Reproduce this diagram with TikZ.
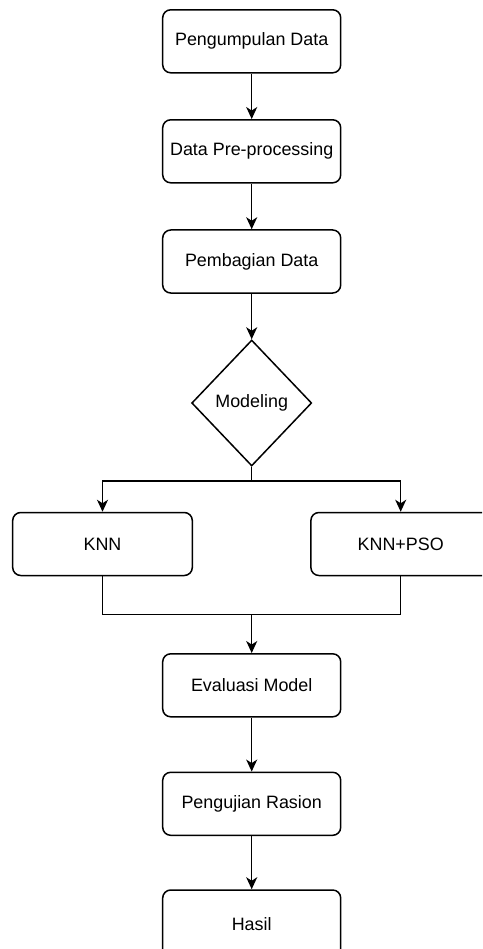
\documentclass[tikz,border=0pt]{standalone}
\usepackage{fontspec}
\setmainfont{Liberation Sans}
\usetikzlibrary{shapes.geometric,arrows.meta}
\begin{document}
\begin{tikzpicture}[x=1pt,y=-1pt,
  stepbox/.style={draw,line width=1.5pt,rounded corners=8pt,minimum width=178pt,minimum height=63pt,inner sep=0pt,font=\fontsize{17.9}{21}\selectfont},
  decbox/.style={draw,line width=1.5pt,diamond,minimum width=120pt,minimum height=126pt,inner sep=0pt,font=\fontsize{17.9}{21}\selectfont},
  arr/.style={line width=1.5pt,-{Stealth[length=12pt,width=11pt,inset=3.5pt]}},
  ln/.style={line width=1.5pt}]
\clip (0,0) rectangle (482,949);
\fill[white] (0,0) rectangle (482,949);
\node[stepbox] (b1) at (251.7,41.3) {Pengumpulan Data};
\node[stepbox] (b2) at (251.7,151.3) {Data Pre-processing};
\node[stepbox] (b3) at (251.7,261.5) {Pembagian Data};
\node[decbox] (dia) at (251.7,403) {Modeling};
\node[stepbox,minimum width=179.6pt] (knn) at (102.5,544) {KNN};
\node[stepbox,minimum width=179.6pt] (pso) at (400.7,544) {KNN+PSO};
\node[stepbox] (ev) at (251.7,685.3) {Evaluasi Model};
\node[stepbox] (pr) at (251.7,803.8) {Pengujian Rasion};
\node[stepbox,minimum height=74pt] (hs) at (251.7,927) {\raisebox{5pt}{Hasil}};
\coordinate (split) at (251.7,481);
\coordinate (merge) at (251.7,614.3);
\draw[arr] (b1) -- (b2);
\draw[arr] (b2) -- (b3);
\draw[arr] (b3) -- (dia);
\draw[ln] (dia.south) -- (split);
\draw[arr] (split) -| (knn.north);
\draw[arr] (split) -| (pso.north);
\draw[ln] (knn.south) |- (merge);
\draw[ln] (pso.south) |- (merge);
\draw[arr] (merge) -- (ev.north);
\draw[arr] (ev) -- (pr);
\draw[arr] (pr) -- (hs);
\end{tikzpicture}
\end{document}
